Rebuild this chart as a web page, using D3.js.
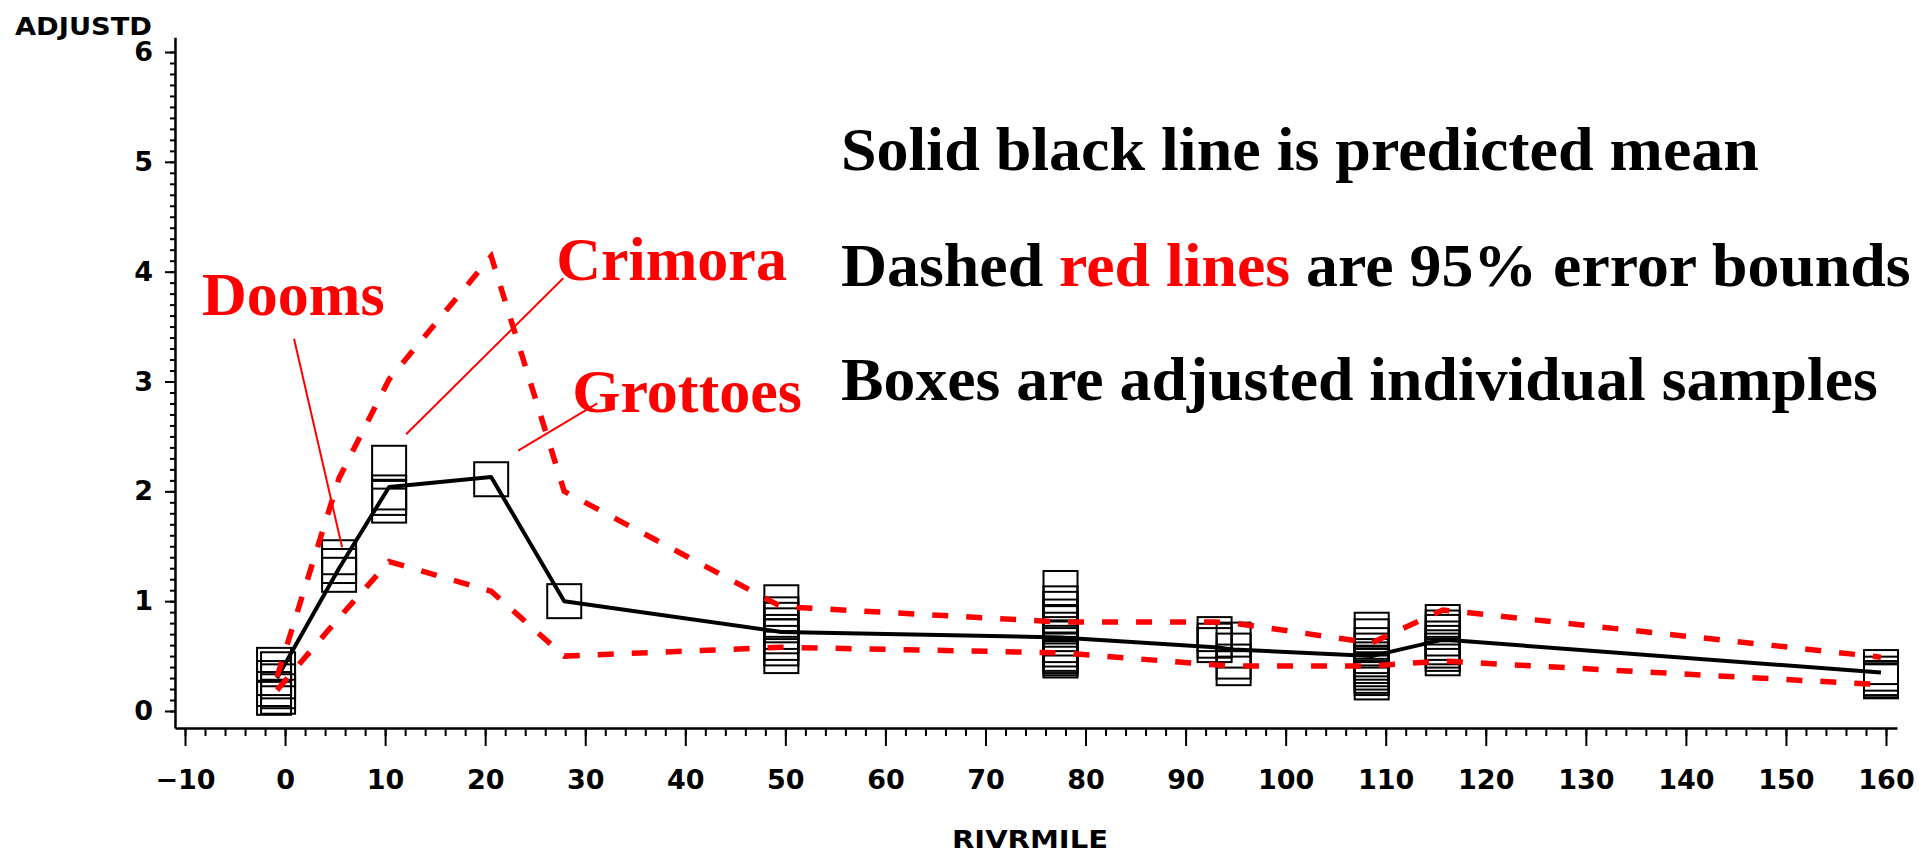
<!DOCTYPE html>
<html><head><meta charset="utf-8">
<script src="https://cdn.jsdelivr.net/npm/d3@7"></script>
<style>html,body{margin:0;padding:0;background:#fff;overflow:hidden}</style>
</head><body>
<svg id="chart" width="1919" height="856"></svg>
<script>
// ---- data ----
const siteMiles     = [-0.8, 5.4, 10.4, 20.6, 27.9, 49.6, 77.5, 92.9, 94.8, 108.6, 115.7, 159.5];
const predictedMean = [0.30, 1.30, 2.04, 2.13, 1.00, 0.72, 0.67, 0.58, 0.56, 0.50, 0.65, 0.35];
const upperBound    = [0.31, 2.12, 3.02, 4.14, 2.00, 0.95, 0.81, 0.81, 0.80, 0.62, 0.92, 0.49];
const lowerBound    = [0.19, 0.85, 1.36, 1.09, 0.50, 0.58, 0.53, 0.42, 0.41, 0.41, 0.455, 0.24];

const sampleMiles  = [-1.1, -0.7, 5.4, 10.4, 20.6, 27.9, 49.6, 77.5, 92.9, 94.8, 108.6, 115.7, 159.5];
const sampleValues = [
  [0.42, 0.30, 0.20, 0.12],
  [0.38, 0.27, 0.18, 0.13],
  [1.40, 1.32, 1.24],
  [2.26, 1.99, 1.94, 1.87],
  [2.11],
  [1.00],
  [0.99, 0.88, 0.83, 0.78, 0.72, 0.68, 0.62, 0.57, 0.50],
  [1.12, 0.98, 0.93, 0.86, 0.80, 0.74, 0.70, 0.66, 0.60, 0.56, 0.52, 0.50, 0.48, 0.46],
  [0.70, 0.64, 0.60],
  [0.65, 0.55, 0.45, 0.39],
  [0.74, 0.68, 0.60, 0.55, 0.50, 0.47, 0.44, 0.41, 0.38, 0.35, 0.32, 0.30, 0.26],
  [0.81, 0.76, 0.72, 0.66, 0.62, 0.58, 0.55, 0.52, 0.48],
  [0.40, 0.34, 0.30, 0.28, 0.27]
];

const xTickLabels = d3.range(-10, 161, 10);
const yTickLabels = [0, 1, 2, 3, 4, 5, 6];
const xTitle = "RIVRMILE";
const yTitle = "ADJUSTD";

const annotationNames  = ["Dooms", "Crimora", "Grottoes"];
const annotationLabelAt = [[-8.3, 3.61], [27.1, 3.92], [28.7, 2.72]];
const annotationLineFrom = [[0.9, 3.39], [27.8, 3.94], [31.2, 2.80]];
const annotationLineTo   = [[5.7, 1.49], [12.1, 2.52], [23.3, 2.37]];

const noteLines = [
  [["Solid black line is predicted mean", "#000"]],
  [["Dashed ", "#000"], ["red lines", "#ff0000"], [" are 95% error bounds", "#000"]],
  [["Boxes are adjusted individual samples", "#000"]]
];

// ---- layout ----
const svg = d3.select("#chart");
const x = d3.scaleLinear().domain([-10, 160]).range([185, 1886]);
const y = d3.scaleLinear().domain([0, 6]).range([711, 52]);
const xAxisScale = x.copy().domain([-11, 161.1]).range([x(-11), x(161.1)]);
const yAxisScale = y.copy().domain([-0.155, 6.135]).range([y(-0.155), y(6.135)]);
const axisY = y(-0.155);
const axisX = x(-11);

const tickFont = "'DejaVu Sans', sans-serif";

// x axis
const gx = svg.append("g").attr("transform", `translate(0,${axisY})`);
gx.call(d3.axisBottom(xAxisScale).tickValues(d3.range(-10, 161, 2)).tickSize(8).tickSizeOuter(0).tickFormat(""));
const gx2 = svg.append("g").attr("transform", `translate(0,${axisY})`);
gx2.call(d3.axisBottom(xAxisScale).tickValues(xTickLabels).tickSize(18).tickSizeOuter(0).tickPadding(24).tickFormat(d3.format("d")));
gx2.select(".domain").remove();

// y axis
const gy = svg.append("g").attr("transform", `translate(${axisX},0)`);
gy.call(d3.axisLeft(yAxisScale).tickValues(d3.range(0, 61).map(d => d / 10)).tickSize(5).tickSizeOuter(0).tickFormat(""));
const gy2 = svg.append("g").attr("transform", `translate(${axisX},0)`);
gy2.call(d3.axisLeft(yAxisScale).tickValues(yTickLabels).tickSize(10).tickSizeOuter(0).tickPadding(12).tickFormat(d3.format("d")));
gy2.select(".domain").remove();

svg.selectAll(".domain").attr("stroke", "#000").attr("stroke-width", 2.5);
svg.selectAll(".tick line").attr("stroke", "#000").attr("stroke-width", 2);
svg.selectAll(".tick text").attr("fill", "#000")
  .style("font-family", tickFont).style("font-weight", "bold").style("font-size", "27px");

// axis titles
svg.append("text").text(yTitle)
  .attr("x", 15).attr("y", 35)
  .attr("textLength", 137).attr("lengthAdjust", "spacingAndGlyphs")
  .style("font-family", tickFont).style("font-weight", "bold").style("font-size", "25px").attr("fill", "#000");
svg.append("text").text(xTitle)
  .attr("x", 952).attr("y", 848)
  .attr("textLength", 156).attr("lengthAdjust", "spacingAndGlyphs")
  .style("font-family", tickFont).style("font-weight", "bold").style("font-size", "24px").attr("fill", "#000");

// sample boxes
const boxSize = 34;
const boxes = [];
sampleMiles.forEach((m, i) => sampleValues[i].forEach(v => boxes.push([m, v])));
svg.append("g").selectAll("rect").data(boxes).join("rect")
  .attr("x", d => x(d[0]) - boxSize / 2)
  .attr("y", d => y(d[1]) - boxSize / 2)
  .attr("width", boxSize).attr("height", boxSize)
  .attr("fill", "none").attr("stroke", "#000").attr("stroke-width", 2);

// lines
const line = d3.line().x(d => x(d[0])).y(d => y(d[1]));
const meanPts  = siteMiles.map((m, i) => [m, predictedMean[i]]);
const upperPts = siteMiles.map((m, i) => [m, upperBound[i]]);
const lowerPts = siteMiles.map((m, i) => [m, lowerBound[i]]);

svg.append("path").attr("d", line(meanPts))
  .attr("fill", "none").attr("stroke", "#000").attr("stroke-width", 4).attr("stroke-linejoin", "round");
[upperPts, lowerPts].forEach(pts => {
  svg.append("path").attr("d", line(pts))
    .attr("fill", "none").attr("stroke", "#ff0000").attr("stroke-width", 5.5)
    .attr("stroke-dasharray", "16,18");
});

// annotations
const serif = "'Liberation Serif', 'Times New Roman', serif";
annotationNames.forEach((name, i) => {
  svg.append("line")
    .attr("x1", x(annotationLineFrom[i][0])).attr("y1", y(annotationLineFrom[i][1]))
    .attr("x2", x(annotationLineTo[i][0])).attr("y2", y(annotationLineTo[i][1]))
    .attr("stroke", "#ff0000").attr("stroke-width", 2);
  svg.append("text").text(name)
    .attr("x", x(annotationLabelAt[i][0])).attr("y", y(annotationLabelAt[i][1]))
    .attr("fill", "#ff0000")
    .style("font-family", serif).style("font-weight", "bold").style("font-size", "62px");
});

// notes
const noteBaselines = [170, 286, 400];
const noteWidths = [918, 1070, 1037];
noteLines.forEach((parts, i) => {
  const g = svg.append("g");
  const t = g.append("text").attr("x", 0).attr("y", 0)
    .style("font-family", serif).style("font-weight", "bold").style("font-size", "62px");
  parts.forEach(p => t.append("tspan").text(p[0]).attr("fill", p[1]).style("white-space", "pre"));
  t.attr("xml:space", "preserve");
  const w = t.node().getComputedTextLength();
  const sx = noteWidths[i] / w;
  g.attr("transform", `translate(841,${noteBaselines[i]}) scale(${sx},1)`);
});
</script>
</body></html>
